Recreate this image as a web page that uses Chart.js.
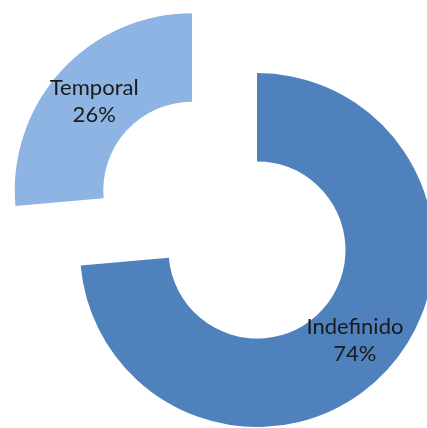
<!DOCTYPE html>
<html>
<head>
<meta charset="utf-8">
<script src="https://cdn.jsdelivr.net/npm/chart.js@4/dist/chart.umd.min.js"></script>
<style>
  html, body { margin: 0; padding: 0; background: #ffffff; overflow: hidden; }
  canvas { display: block; }
</style>
</head>
<body>
<canvas id="pieChart" width="427" height="428"></canvas>
<script>
const categories = ['Indefinido', 'Temporal'];
const shares = [73.6, 26.4];
const sliceColors = ['#4F81BD', '#8EB4E3'];
// Temporal slice is pulled out of the ring
const sliceOffsets = [0, 352];

// Draw "name / pct%" in the middle of each slice
const sliceLabels = {
    id: 'sliceLabels',
    afterDatasetsDraw(chart) {
        const ctx = chart.ctx;
        const meta = chart.getDatasetMeta(0);
        const total = shares.reduce((a, b) => a + b, 0);
        ctx.save();
        ctx.font = '22px Lato, "Liberation Sans", sans-serif';
        ctx.fillStyle = '#1a1a1a';
        ctx.textAlign = 'center';
        ctx.textBaseline = 'middle';
        meta.data.forEach((arc, i) => {
            const p = arc.getProps(['x', 'y', 'startAngle', 'endAngle', 'innerRadius', 'outerRadius']);
            const mid = (p.startAngle + p.endAngle) / 2;
            const r = (p.innerRadius + p.outerRadius) / 2 + (arc.options.offset || 0) / 4;
            const cx = p.x + Math.cos(mid) * r;
            const cy = p.y + Math.sin(mid) * r;
            const pct = Math.round(shares[i] / total * 100) + '%';
            ctx.fillText(categories[i], cx, cy - 13);
            ctx.fillText(pct, cx, cy + 14);
        });
        ctx.restore();
    }
};

new Chart(document.getElementById('pieChart'), {
    type: 'doughnut',
    data: {
        labels: categories,
        datasets: [{
            data: shares,
            backgroundColor: sliceColors,
            borderWidth: 0,
            offset: sliceOffsets,
            clip: false
        }]
    },
    options: {
        responsive: false,
        animation: false,
        cutout: '50%',
        radius: 177,
        layout: {
            padding: { left: 87, right: 0, top: 72, bottom: 0 }
        },
        events: [],
        plugins: {
            legend: { display: false },
            tooltip: { enabled: false }
        }
    },
    plugins: [sliceLabels]
});
</script>
</body>
</html>
